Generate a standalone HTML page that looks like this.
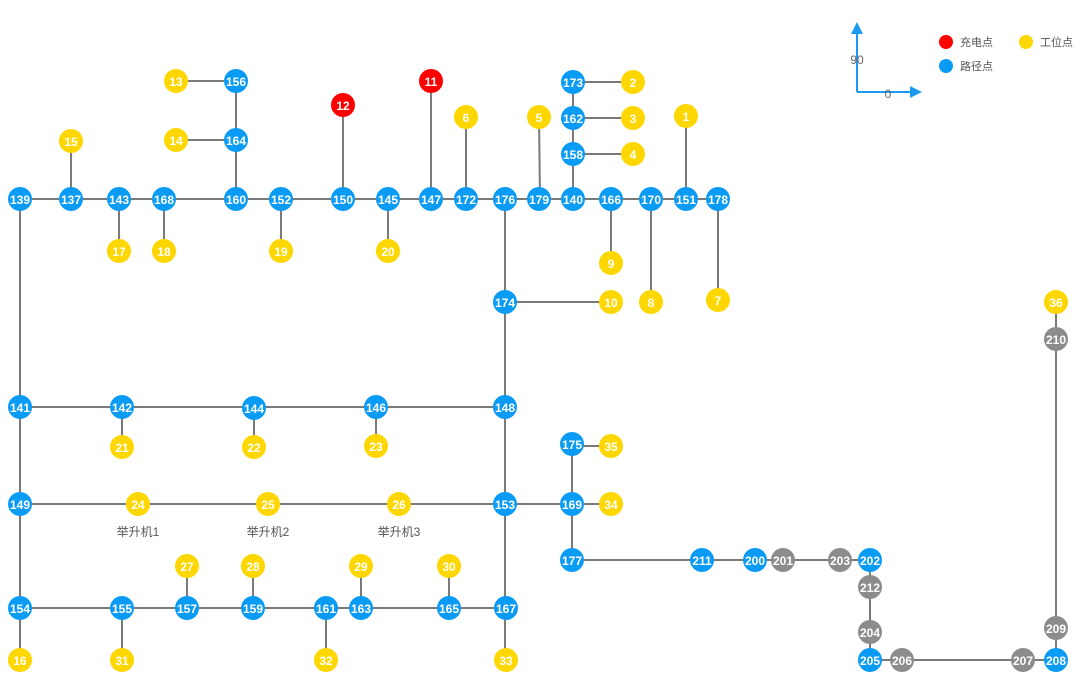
<!DOCTYPE html>
<html><head><meta charset="utf-8"><style>
html,body{margin:0;padding:0;background:#fff;}
svg text{font-family:"Liberation Sans","Noto Sans CJK SC",sans-serif;}
.n{font-size:12px;font-weight:bold;fill:#fff;text-anchor:middle;dominant-baseline:central;}
</style></head><body>
<svg width="1080" height="689" xmlns="http://www.w3.org/2000/svg">
<g stroke="#7a7a7a" stroke-width="2" fill="none">
<path d="M20 199H718 M20 199V660 M20 407H505 M20 504H572 M505 199V660 M20 608H506 M572 444V560 M572 446H611 M572 504H611 M572 560H870V660H1056V302 M505 302H611
M71 141V199 M176 81H236V199 M176 140H236 M343 105V199 M431 81V199 M466 117V199 M539 117L540 199 M573 82V199 M573 82H633 M573 118H633 M573 154H633 M686 116V199
M119 199V251 M164 199V251 M281 199V251 M388 199V251 M611 199V263 M651 199V302 M718 199V300
M122 407V447 M254 407V447 M376 407V446 M187 566V608 M253 566V608 M361 566V608 M449 566V608 M122 608V660 M326 608V660"/>
</g>
<g id="nodes"></g>
<g stroke="#1a9bf0" stroke-width="2" fill="#1a9bf0">
<path d="M857 92V28 M857 92H914" fill="none"/>
<path d="M851 34L857 22L863 34Z M910 86L922 92L910 98Z" stroke="none"/>
</g>
<text x="857" y="64" font-size="12" fill="#666" text-anchor="middle">90</text>
<text x="888" y="98" font-size="12" fill="#666" text-anchor="middle">0</text>
<circle cx="946" cy="42" r="7" fill="#f00"/><text x="960" y="46" font-size="11" fill="#555">充电点</text>
<circle cx="946" cy="66" r="7" fill="#0a9bf5"/><text x="960" y="70" font-size="11" fill="#555">路径点</text>
<circle cx="1026" cy="42" r="7" fill="#ffd700"/><text x="1040" y="46" font-size="11" fill="#555">工位点</text>
<text x="138" y="536" font-size="12" fill="#555" text-anchor="middle">举升机1</text>
<text x="268" y="536" font-size="12" fill="#555" text-anchor="middle">举升机2</text>
<text x="399" y="536" font-size="12" fill="#555" text-anchor="middle">举升机3</text>
</svg>
<script>
var B='#0a9bf5',Y='#ffd700',R='#f00',G='#8c8c8c';
var N=[[139,20,199,B],[137,71,199,B],[143,119,199,B],[168,164,199,B],[160,236,199,B],[152,281,199,B],[150,343,199,B],[145,388,199,B],[147,431,199,B],[172,466,199,B],[176,505,199,B],[179,539,199,B],[140,573,199,B],[166,611,199,B],[170,651,199,B],[151,686,199,B],[178,718,199,B],
[15,71,141,Y],[13,176,81,Y],[156,236,81,B],[14,176,140,Y],[164,236,140,B],[12,343,105,R],[11,431,81,R],[6,466,117,Y],[5,539,117,Y],[173,573,82,B],[2,633,82,Y],[162,573,118,B],[3,633,118,Y],[158,573,154,B],[4,633,154,Y],[1,686,116,Y],
[17,119,251,Y],[18,164,251,Y],[19,281,251,Y],[20,388,251,Y],[9,611,263,Y],[8,651,302,Y],[7,718,300,Y],[174,505,302,B],[10,611,302,Y],
[141,20,407,B],[142,122,407,B],[144,254,408,B],[146,376,407,B],[148,505,407,B],[21,122,447,Y],[22,254,447,Y],[23,376,446,Y],
[149,20,504,B],[24,138,504,Y],[25,268,504,Y],[26,399,504,Y],[153,505,504,B],[169,572,504,B],[175,572,444,B],[35,611,446,Y],[34,611,504,Y],
[177,572,560,B],[211,702,560,B],[200,755,560,B],[201,783,560,G],[203,840,560,G],[202,870,560,B],[212,870,587,G],[204,870,632,G],[205,870,660,B],[206,902,660,G],[207,1023,660,G],[208,1056,660,B],[209,1056,628,G],[210,1056,339,G],[36,1056,302,Y],
[154,20,608,B],[155,122,608,B],[157,187,608,B],[159,253,608,B],[161,326,608,B],[163,361,608,B],[165,449,608,B],[167,506,608,B],[27,187,566,Y],[28,253,566,Y],[29,361,566,Y],[30,449,566,Y],
[16,20,660,Y],[31,122,660,Y],[32,326,660,Y],[33,506,660,Y]];
var g=document.getElementById('nodes'),s='';
N.forEach(function(n){s+='<circle cx="'+n[1]+'" cy="'+n[2]+'" r="12" fill="'+n[3]+'"/><text class="n" x="'+n[1]+'" y="'+(n[2]+1)+'">'+n[0]+'</text>';});
g.innerHTML=s;
</script>
</body></html>
